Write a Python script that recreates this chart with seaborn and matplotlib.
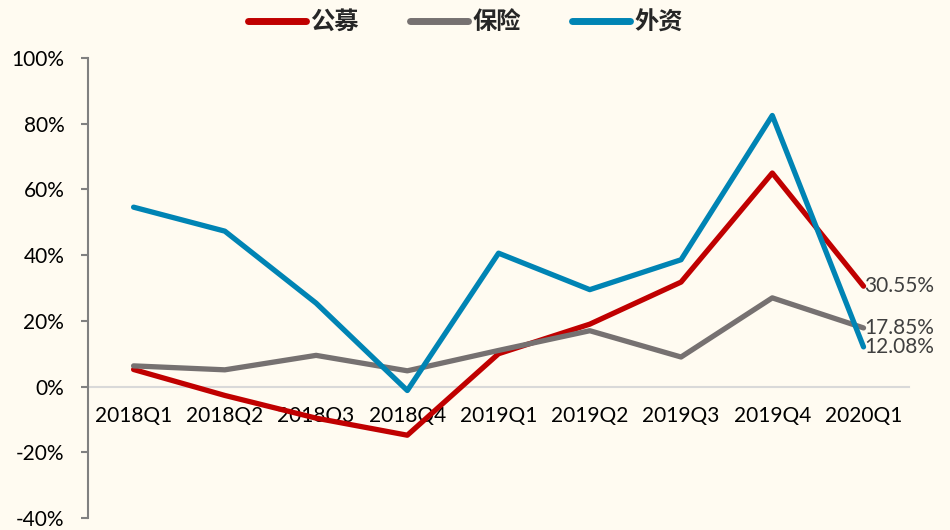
import pandas as pd
import matplotlib
matplotlib.use('Agg')
import matplotlib.pyplot as plt
import seaborn as sns

# Data (percent)
quarters = ['2018Q1', '2018Q2', '2018Q3', '2018Q4', '2019Q1',
            '2019Q2', '2019Q3', '2019Q4', '2020Q1']
series_names = ['公募', '保险', '外资']
gongmu = [5.2, -2.7, -9.6, -14.8, 10.0, 19.0, 31.8, 65.0, 30.55]
baoxian = [6.3, 5.1, 9.5, 4.8, 11.0, 17.0, 9.0, 27.0, 17.85]
waizi = [54.6, 47.3, 25.4, -1.2, 40.6, 29.5, 38.6, 82.5, 12.08]
end_labels = ['30.55%', '17.85%', '12.08%']
colors = ['#C00000', '#767171', '#0084B4']
bg = '#FFFBF1'


def build_frame():
    rows = []
    for name, vals in zip(series_names, [gongmu, baoxian, waizi]):
        for i, v in enumerate(vals):
            rows.append({'pos': i, 'value': v, 'series': name})
    return pd.DataFrame(rows)


def main():
    df = build_frame()
    sns.set_style('white')
    plt.rcParams['font.family'] = ['Lato', 'Noto Sans CJK SC', 'DejaVu Sans']

    fig = plt.figure(figsize=(9.5, 5.3), dpi=100, facecolor=bg)
    ax = fig.add_axes([0.0926, 0.0226, 0.8644, 0.868])
    ax.set_facecolor(bg)

    sns.lineplot(data=df, x='pos', y='value', hue='series',
                 hue_order=series_names, palette=colors,
                 linewidth=3.8, sort=False, ax=ax)

    # end-of-series labels
    for vals, txt in zip([gongmu, baoxian, waizi], end_labels):
        ax.text(len(quarters) - 1 + 0.01, vals[-1], txt, ha='left', va='center',
                fontsize=15, color='#404040')

    ax.set_xlim(-0.5, len(quarters) - 0.5)
    ax.set_ylim(-40, 100)
    ax.set_yticks(range(-40, 101, 20))
    ax.set_yticklabels([f'{t}%' for t in range(-40, 101, 20)])
    ax.set_xticks(range(len(quarters)))
    ax.set_xticklabels(quarters)
    ax.set_xlabel('')
    ax.set_ylabel('')

    for s in ['top', 'right']:
        ax.spines[s].set_visible(False)
    ax.spines['bottom'].set_position(('data', 0))
    ax.spines['bottom'].set_color('#D9D9D9')
    ax.spines['bottom'].set_linewidth(1.5)
    ax.spines['bottom'].set_zorder(0)
    ax.spines['left'].set_color('#808080')
    ax.spines['left'].set_linewidth(1.5)

    ax.tick_params(axis='x', length=0, pad=14, labelsize=15, labelcolor='#000000')
    ax.tick_params(axis='y', length=5, width=1.5, color='#808080', pad=12,
                   labelsize=15, labelcolor='#000000', left=True)

    sns.move_legend(ax, 'center', bbox_to_anchor=(0.49, 0.958),
                    bbox_transform=fig.transFigure, ncol=3, frameon=False,
                    title=None, handlelength=2.4, handletextpad=0.17,
                    columnspacing=2.1,
                    prop={'family': 'Noto Sans CJK SC', 'weight': 'bold', 'size': 17.5})
    for line in ax.get_legend().get_lines():
        line.set_linewidth(5)
        line.set_solid_capstyle('round')

    fig.savefig('out.png', dpi=100, facecolor=bg)
    plt.close(fig)


if __name__ == '__main__':
    main()
